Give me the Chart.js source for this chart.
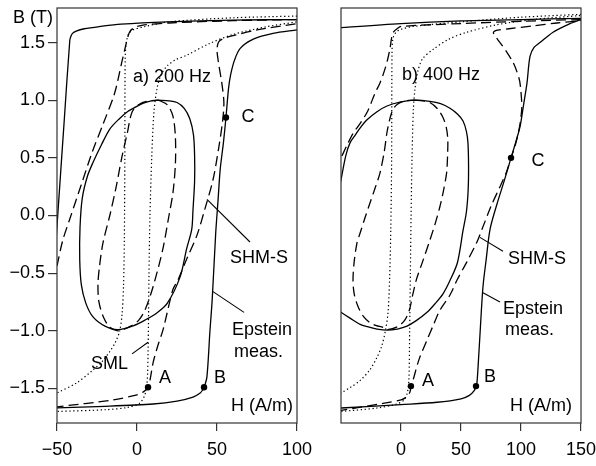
<!DOCTYPE html>
<html><head><meta charset="utf-8">
<script src="https://cdn.jsdelivr.net/npm/chart.js@4.4.1/dist/chart.umd.min.js"></script>
<style>
html,body{margin:0;padding:0;background:#fff;overflow:hidden;width:596px;height:466px;}
#wrap{position:relative;width:596px;height:466px;overflow:hidden;}
canvas{position:absolute;top:0;}
#c1{left:0;}
#c2{left:300px;}
</style></head><body>
<div id="wrap"><canvas id="c1" width="340" height="466"></canvas><canvas id="c2" width="310" height="466"></canvas></div>
<script>
// ---------- tick labels ----------
const yTickValues = [-1.5, -1.0, -0.5, 0.0, 0.5, 1.0, 1.5];
const xTicks200 = [-50, 0, 50, 100];
const xTicks400 = [0, 50, 100, 150];

// ---------- a) 200 Hz ----------
const epsteinDesc200H = [100, 60, 18.75, -10, -23, -33, -38, -40.3, -41.3, -42, -45.6, -49.4, -51];
const epsteinDesc200B = [1.70, 1.695, 1.68, 1.66, 1.64, 1.62, 1.60, 1.58, 1.555, 1.52, 0.80, 0.03, -0.3];
const epsteinAsc200H = [-52, -50, -20, 10, 25, 35, 39.5, 41.2, 42, 43.7, 45.6, 47, 49.2, 50.6, 52, 54, 55.6, 57.2, 58.5, 61, 64.5, 72.7, 85, 100];
const epsteinAsc200B = [-1.672, -1.668, -1.655, -1.635, -1.61, -1.575, -1.54, -1.51, -1.49, -1.40, -1.0, -0.73, -0.15, 0.12, 0.40, 0.63, 0.85, 1.10, 1.22, 1.35, 1.45, 1.53, 1.58, 1.61];
const epsteinMinor200H = [13.5, 20, 25, 29.5, 33, 35.3, 36, 36, 35, 34.2, 31, 27, 19, 12, 6, -2, -12, -20, -27.5, -32, -34.8, -35.8, -35.6, -34.2, -31, -27.5, -22, -17, -11, -6, -1, 4, 9, 13.5];
const epsteinMinor200B = [1.0, 0.995, 0.98, 0.93, 0.84, 0.70, 0.52, 0.3, 0.05, -0.12, -0.29, -0.53, -0.76, -0.85, -0.90, -0.955, -0.99, -0.96, -0.88, -0.76, -0.6, -0.38, -0.1, 0.15, 0.34, 0.46, 0.62, 0.75, 0.84, 0.90, 0.94, 0.975, 0.995, 1.0];
const shmMinor200H = [13.5, 19, 22.5, 24, 24, 22.5, 20, 16, 10, 5, 1, -4, -8, -12, -17, -21, -23.8, -24.4, -23.5, -21.3, -17, -13, -9.4, -6, -3, 2, 8, 13.5];
const shmMinor200B = [1.0, 0.96, 0.86, 0.68, 0.45, 0.2, 0.0, -0.3, -0.62, -0.82, -0.91, -0.96, -0.985, -1.0, -0.97, -0.88, -0.75, -0.6, -0.45, -0.24, 0.0, 0.25, 0.51, 0.72, 0.9, 0.97, 0.995, 1.0];
const shmDesc200H = [100, 60, 20, 3, -1.5, -4.3, -5.6, -6.8, -9.5, -14, -21, -28, -35, -42, -46.5, -50, -52];
const shmDesc200B = [1.70, 1.69, 1.67, 1.65, 1.63, 1.60, 1.555, 1.49, 1.33, 1.06, 0.80, 0.55, 0.26, -0.03, -0.22, -0.44, -0.57];
const shmAsc200H = [-52, -50, -15, 0, 4, 7, 8.5, 10, 13, 16.3, 22.5, 25.6, 31, 37.5, 42.5, 47.5, 51, 53.5, 54.3, 53, 51, 50, 51, 54, 60, 75, 100];
const shmAsc200B = [-1.665, -1.66, -1.60, -1.555, -1.53, -1.49, -1.40, -1.28, -1.13, -0.99, -0.64, -0.56, -0.38, -0.17, 0.06, 0.31, 0.58, 0.82, 0.98, 1.15, 1.32, 1.44, 1.505, 1.535, 1.56, 1.61, 1.665];
const smlDesc200H = [100, 60, 20, 3.75, -2.5, -5.2, -6.7, -7.4, -7.6, -7.9, -8.4, -9.3, -10.8, -13.5, -17, -22, -27.5, -37.5, -50, -52];
const smlDesc200B = [1.73, 1.715, 1.68, 1.635, 1.61, 1.575, 1.50, 1.35, 0.5, -0.2, -0.6, -0.85, -1.0, -1.1, -1.18, -1.27, -1.34, -1.45, -1.54, -1.555];
const smlAsc200H = [-52, -50, -20, -6, 1.5, 4.5, 6.2, 6.9, 7.5, 8.1, 9.2, 10.6, 12.5, 15, 19, 24, 31, 45, 60, 80, 100];
const smlAsc200B = [-1.702, -1.70, -1.685, -1.665, -1.63, -1.57, -1.47, -1.2, -0.5, 0.0, 0.5, 0.9, 1.1, 1.22, 1.30, 1.35, 1.39, 1.49, 1.57, 1.635, 1.68];
const marks200H = [6.9, 41.9, 55.6];
const marks200B = [-1.49, -1.49, 0.85];

// ---------- b) 400 Hz ----------
const epsteinDesc400H = [-52, -50, 0, 50, 100, 150];
const epsteinDesc400B = [1.627, 1.63, 1.665, 1.688, 1.70, 1.71];
const epsteinAsc400H = [-52, -50, 0, 30, 50, 57, 61, 62.5, 63.3, 64.3, 66, 68.3, 71, 74.2, 80, 86, 91.7, 96, 99.2, 102, 105, 107.5, 111, 115.8, 126.7, 140, 150];
const epsteinAsc400B = [-1.672, -1.67, -1.64, -1.62, -1.59, -1.56, -1.52, -1.48, -1.45, -1.3, -1.0, -0.62, -0.38, -0.12, 0.1, 0.3, 0.5, 0.65, 0.77, 0.95, 1.15, 1.38, 1.46, 1.5, 1.59, 1.66, 1.70];
const epsteinMinor400H = [-56, -50, -46, -42.5, -38, -34, -28.3, -20, -11.7, 0, 11.7, 24, 33, 40.8, 47, 51.7, 54.5, 55.8, 56.3, 56, 54.5, 51.7, 47, 41, 35, 28, 21.7, 13, 5, -3, -11.7, -20, -28, -34, -42.5, -50, -56];
const epsteinMinor400B = [0.0, 0.31, 0.52, 0.63, 0.70, 0.76, 0.83, 0.90, 0.95, 0.985, 1.0, 0.99, 0.97, 0.93, 0.88, 0.82, 0.73, 0.63, 0.43, 0.23, 0.03, -0.13, -0.41, -0.56, -0.68, -0.77, -0.84, -0.91, -0.96, -0.985, -0.995, -0.985, -0.965, -0.945, -0.89, -0.84, -0.8];
const shmMinor400H = [11.7, 18, 24, 30, 35, 37.8, 39, 38.8, 38, 35.5, 32.5, 28.5, 24.2, 18, 13, 9.5, 7, 3, -3, -11.7, -15, -20.5, -25.8, -31, -35.8, -39, -40, -39, -36.7, -34, -30, -25.8, -21.5, -17.5, -14, -11.7, -9, -6.7, -3, 2, 7, 11.7];
const shmMinor400B = [1.0, 0.995, 0.98, 0.93, 0.85, 0.76, 0.66, 0.52, 0.37, 0.22, 0.08, -0.07, -0.21, -0.40, -0.55, -0.70, -0.82, -0.91, -0.965, -0.99, -0.97, -0.955, -0.93, -0.88, -0.79, -0.68, -0.56, -0.40, -0.24, -0.15, -0.02, 0.11, 0.24, 0.37, 0.55, 0.72, 0.85, 0.92, 0.965, 0.99, 0.998, 1.0];
const shmDesc400H = [150, 100, 50, 0, -3.3, -6, -7.5, -9, -11, -14, -17.5, -21.7, -28, -34, -40, -45, -50, -53];
const shmDesc400B = [1.70, 1.685, 1.665, 1.64, 1.62, 1.595, 1.56, 1.46, 1.36, 1.25, 1.15, 1.06, 0.90, 0.80, 0.71, 0.61, 0.50, 0.44];
const shmAsc400H = [-53, -50, -15, 0, 5, 7.5, 8.3, 10, 15, 21.7, 27, 32.5, 40.8, 46.7, 55, 63.3, 67.5, 75, 82.5, 88, 91.7, 95.5, 98.8, 100.6, 100.5, 99, 96.5, 93.3, 88, 82.5, 78.5, 77, 78, 82, 90, 110, 130, 150];
const shmAsc400B = [-1.693, -1.69, -1.63, -1.60, -1.57, -1.53, -1.48, -1.43, -1.25, -1.08, -0.95, -0.82, -0.69, -0.56, -0.40, -0.23, -0.12, 0.08, 0.25, 0.38, 0.5, 0.62, 0.77, 0.92, 1.0, 1.16, 1.25, 1.33, 1.42, 1.50, 1.555, 1.585, 1.60, 1.61, 1.62, 1.645, 1.67, 1.69];
const smlDesc400H = [150, 100, 50, 10, 0, -4.5, -6.8, -7.5, -7.8, -8.5, -9.5, -10.8, -13, -16, -20, -26, -34, -42, -50, -53];
const smlDesc400B = [1.745, 1.72, 1.68, 1.64, 1.615, 1.585, 1.53, 1.40, 0.5, -0.12, -0.55, -0.84, -1.0, -1.13, -1.23, -1.34, -1.43, -1.49, -1.54, -1.555];
const smlAsc400H = [-53, -50, -20, -3.3, 2.5, 5.2, 6.6, 7.2, 7.8, 8.4, 9.2, 10.3, 11.7, 14, 18, 26.7, 40, 55, 80, 110, 150];
const smlAsc400B = [-1.702, -1.70, -1.67, -1.635, -1.60, -1.54, -1.42, -1.0, -0.5, 0.0, 0.5, 0.92, 1.1, 1.25, 1.36, 1.44, 1.53, 1.59, 1.655, 1.70, 1.735];
const marks400H = [8.3, 62.5, 91.7];
const marks400B = [-1.48, -1.48, 0.50];

// ---------- helpers ----------
const FONT = "'Liberation Sans', Arial, sans-serif";
function fmtNum(v, digits) {
  const s = Math.abs(v).toFixed(digits);
  return v < 0 ? '\u2212' + s : s;
}
function pts(h, b) { return h.map((v, i) => ({x: v, y: b[i]})); }
function lineDs(h, b, kind) {
  return {
    data: pts(h, b), showLine: true, fill: false,
    borderColor: '#000', borderWidth: kind === 'dotted' ? 1.2 : 1.3,
    borderDash: kind === 'dashed' ? [10, 5] : (kind === 'dotted' ? [1.3, 2.6] : []),
    pointRadius: 0, pointHoverRadius: 0, tension: 0.3
  };
}
function markDs(h, b) {
  return {data: pts(h, b), showLine: false, pointRadius: 3.2, pointBackgroundColor: '#000', pointBorderColor: '#000', pointBorderWidth: 0};
}
function makeAnnot(cfg) {
  return {
    id: 'annot',
    afterDatasetsDraw(chart) {
      const {ctx, chartArea: a, scales: {x, y}} = chart;
      ctx.save();
      ctx.strokeStyle = '#333'; ctx.lineWidth = 1.2; ctx.setLineDash([]);
      ctx.strokeRect(a.left, a.top, a.right - a.left, a.bottom - a.top);
      ctx.strokeStyle = '#000'; ctx.lineWidth = 1.1;
      for (const p of cfg.pointers) {
        ctx.beginPath();
        ctx.moveTo(x.getPixelForValue(p[0]), y.getPixelForValue(p[1]));
        ctx.lineTo(x.getPixelForValue(p[2]), y.getPixelForValue(p[3]));
        ctx.stroke();
      }
      ctx.fillStyle = '#000'; ctx.font = '18px ' + FONT; ctx.textBaseline = 'middle';
      for (const t of cfg.texts) {
        ctx.textAlign = t[3];
        ctx.fillText(t[0], x.getPixelForValue(t[1]), y.getPixelForValue(t[2]));
      }
      if (cfg.title) {
        ctx.textAlign = 'left';
        ctx.fillText(cfg.title, a.left - 44, a.top + 10.5);
      }
      ctx.restore();
    }
  };
}
function makeOptions(xMin, xMax, xTickVals, showY, yWidth, padRight) {
  return {
    responsive: false, animation: false, devicePixelRatio: 1,
    layout: {padding: {top: 8, right: padRight, left: 0, bottom: 0}},
    plugins: {legend: {display: false}, tooltip: {enabled: false}},
    scales: {
      x: {
        type: 'linear', position: 'bottom', min: xMin, max: xMax,
        afterBuildTicks: s => { s.ticks = xTickVals.map(v => ({value: v})); },
        afterFit: s => { s.height = 43; s.paddingLeft = 0; s.paddingRight = 0; },
        ticks: {color: '#000', font: {family: FONT, size: 18}, padding: 8, maxRotation: 0, autoSkip: false, callback: v => fmtNum(v, 0)},
        grid: {display: true, drawOnChartArea: false, drawTicks: true, tickLength: 8, color: '#333', lineWidth: 1.2},
        border: {display: false}
      },
      y: {
        type: 'linear', position: 'left', min: -1.8, max: 1.8,
        afterBuildTicks: s => { s.ticks = yTickValues.map(v => ({value: v})); },
        afterFit: s => { s.width = yWidth; s.paddingTop = 0; s.paddingBottom = 0; },
        ticks: {display: showY, color: '#000', font: {family: FONT, size: 18}, padding: 3, autoSkip: false, callback: v => fmtNum(Number(v), 1)},
        grid: {display: showY, drawOnChartArea: false, drawTicks: true, tickLength: 9, color: '#333', lineWidth: 1.2},
        border: {display: false}
      }
    }
  };
}

// ---------- chart a) ----------
new Chart(document.getElementById('c1'), {
  type: 'scatter',
  data: {datasets: [
    lineDs(epsteinDesc200H, epsteinDesc200B, 'solid'),
    lineDs(epsteinAsc200H, epsteinAsc200B, 'solid'),
    lineDs(epsteinMinor200H, epsteinMinor200B, 'solid'),
    lineDs(shmDesc200H, shmDesc200B, 'dashed'),
    lineDs(shmAsc200H, shmAsc200B, 'dashed'),
    lineDs(shmMinor200H, shmMinor200B, 'dashed'),
    lineDs(smlDesc200H, smlDesc200B, 'dotted'),
    lineDs(smlAsc200H, smlAsc200B, 'dotted'),
    markDs(marks200H, marks200B)
  ]},
  options: makeOptions(-50, 100, xTicks200, true, 57, 43),
  plugins: [makeAnnot({
    title: 'B (T)',
    texts: [
      ['a) 200 Hz', -2.5, 1.205, 'left'],
      ['C', 69.4, 0.85, 'center'],
      ['SHM-S', 76.25, -0.373, 'center'],
      ['Epstein', 59.4, -0.99, 'left'],
      ['meas.', 60.6, -1.185, 'left'],
      ['SML', -17.2, -1.29, 'center'],
      ['A', 17.5, -1.41, 'center'],
      ['B', 51.9, -1.41, 'center'],
      ['H (A/m)', 97.5, -1.656, 'right']
    ],
    pointers: [
      [43.75, 0.14, 70.6, -0.23],
      [47.5, -0.66, 66.9, -0.84],
      [-3.1, -1.20, 6.9, -1.10]
    ]
  })]
});

// ---------- chart b) ----------
new Chart(document.getElementById('c2'), {
  type: 'scatter',
  data: {datasets: [
    lineDs(epsteinDesc400H, epsteinDesc400B, 'solid'),
    lineDs(epsteinAsc400H, epsteinAsc400B, 'solid'),
    lineDs(epsteinMinor400H, epsteinMinor400B, 'solid'),
    lineDs(shmDesc400H, shmDesc400B, 'dashed'),
    lineDs(shmAsc400H, shmAsc400B, 'dashed'),
    lineDs(shmMinor400H, shmMinor400B, 'dashed'),
    lineDs(smlDesc400H, smlDesc400B, 'dotted'),
    lineDs(smlAsc400H, smlAsc400B, 'dotted'),
    markDs(marks400H, marks400B)
  ]},
  options: makeOptions(-50, 150, xTicks400, false, 41, 29),
  plugins: [makeAnnot({
    title: null,
    texts: [
      ['b) 400 Hz', 0.83, 1.22, 'left'],
      ['C', 114.2, 0.47, 'center'],
      ['SHM-S', 113.3, -0.38, 'center'],
      ['Epstein', 85, -0.81, 'left'],
      ['meas.', 86.7, -0.995, 'left'],
      ['A', 22.5, -1.44, 'center'],
      ['B', 74.2, -1.40, 'center'],
      ['H (A/m)', 142.5, -1.656, 'right']
    ],
    pointers: [
      [65.8, -0.19, 85, -0.31],
      [68.3, -0.67, 82.5, -0.75]
    ]
  })]
});
</script>
</body></html>
